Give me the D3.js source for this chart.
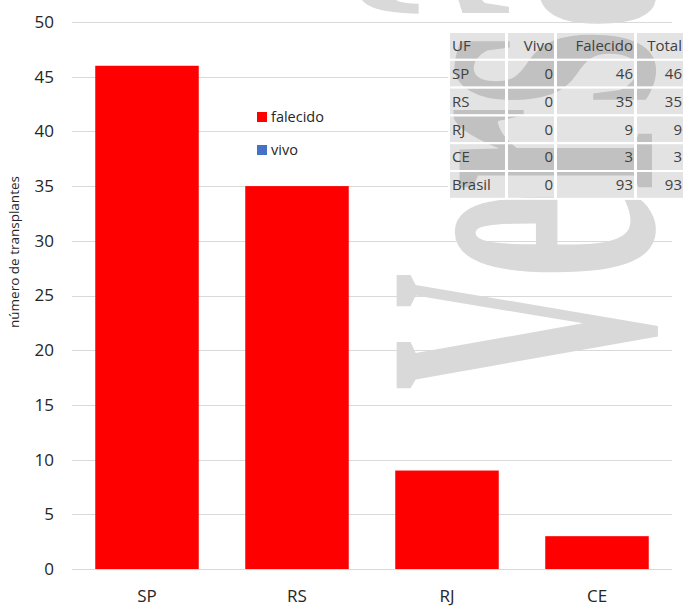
<!DOCTYPE html>
<html>
<head>
<meta charset="utf-8">
<script src="https://cdn.jsdelivr.net/npm/d3@7"></script>
<style>
  body { margin: 0; background: #fff; }
  svg { display: block; }
</style>
</head>
<body>
<script>
const w = 685;
const h = 607;

// data
const categories = ["SP", "RS", "RJ", "CE"];
const vivo = [0, 0, 0, 0];
const falecido = [46, 35, 9, 3];
const yTicks = [0, 5, 10, 15, 20, 25, 30, 35, 40, 45, 50];
const tableHead = ["UF", "Vivo", "Falecido", "Total"];
const tableUF = ["SP", "RS", "RJ", "CE", "Brasil"];
const tableVivo = [0, 0, 0, 0, 0];
const tableFalecido = [46, 35, 9, 3, 93];
const tableTotal = [46, 35, 9, 3, 93];

const colors = { falecido: "#ff0000", vivo: "#4472c4" };
const font = "'Open Sans', 'Noto Sans', sans-serif";

const margin = { top: 22, right: 13, bottom: 38, left: 72 };
const svg = d3.select("body").append("svg").attr("width", w).attr("height", h);

const x = d3.scaleBand()
  .domain(categories)
  .range([margin.left, w - margin.right])
  .paddingInner(0.31)
  .paddingOuter(0.155);

const y = d3.scaleLinear()
  .domain([0, 50])
  .range([h - margin.bottom, margin.top]);

// gridlines
svg.append("g")
  .selectAll("line")
  .data(yTicks)
  .enter()
  .append("line")
  .attr("x1", margin.left)
  .attr("x2", w - margin.right)
  .attr("y1", d => Math.round(y(d)) + 0.5)
  .attr("y2", d => Math.round(y(d)) + 0.5)
  .style("stroke", "#d9d9d9")
  .style("stroke-width", 1);

// y axis labels
const yAxis = svg.append("g")
  .attr("transform", `translate(${margin.left - 18},0)`)
  .call(d3.axisLeft(y).tickValues(yTicks).tickSize(0).tickPadding(0));
yAxis.select(".domain").remove();
yAxis.selectAll("text")
  .style("font-family", font)
  .style("font-size", "17px")
  .style("fill", "#262626");

// x axis labels
const xAxis = svg.append("g")
  .attr("transform", `translate(0,${y(0)})`)
  .call(d3.axisBottom(x).tickSize(0).tickPadding(21));
xAxis.select(".domain").remove();
xAxis.selectAll("text")
  .style("font-family", font)
  .style("font-size", "17px")
  .style("fill", "#262626");

// y axis title
svg.append("text")
  .attr("transform", "translate(19,252) rotate(-90)")
  .attr("text-anchor", "middle")
  .style("font-family", font)
  .style("font-size", "13.5px")
  .style("fill", "#262626")
  .text("número de transplantes");

// stacked bars
const rows = categories.map((c, i) => ({ uf: c, vivo: vivo[i], falecido: falecido[i] }));
const stacked = d3.stack().keys(["falecido", "vivo"])(rows);

svg.append("g")
  .selectAll("g")
  .data(stacked)
  .enter()
  .append("g")
  .style("fill", d => colors[d.key])
  .selectAll("rect")
  .data(d => d)
  .enter()
  .append("rect")
  .attr("x", d => x(d.data.uf))
  .attr("y", d => y(d[1]))
  .attr("width", x.bandwidth())
  .attr("height", d => y(d[0]) - y(d[1]));

// legend
const legendKeys = ["falecido", "vivo"];
const legend = svg.append("g")
  .selectAll("g")
  .data(legendKeys)
  .enter()
  .append("g")
  .attr("transform", (d, i) => `translate(257,${112 + i * 33})`);
legend.append("rect")
  .attr("width", 10)
  .attr("height", 10)
  .style("fill", d => colors[d]);
legend.append("text")
  .attr("x", 14)
  .attr("y", 5)
  .attr("dy", "0.35em")
  .style("font-family", font)
  .style("font-size", "14.5px")
  .style("fill", "#262626")
  .text(d => d);

// table geometry
const colX = [450, 508, 557, 637];
const colW = [57, 48, 79, 48];
const rowH = 27.8;
const tableTop = 33;
const tableRows = [tableHead].concat(tableUF.map((u, i) => [u, tableVivo[i], tableFalecido[i], tableTotal[i]]));

// table background hides the gridlines
svg.append("rect")
  .attr("x", colX[0] - 1)
  .attr("y", tableTop - 1)
  .attr("width", w - colX[0] + 1)
  .attr("height", rowH * tableRows.length)
  .style("fill", "#fff");

// watermark
const wmStyle = sel => sel
  .style("font-family", "'Liberation Serif', serif")
  .style("font-weight", "bold")
  .style("font-size", "195px")
  .style("fill", "#d9d9d9");
svg.append("text")
  .attr("transform", "translate(652,390) rotate(-90) scale(0.83,2.0)")
  .call(wmStyle)
  .text("V");
svg.append("text")
  .attr("transform", "translate(652,279) rotate(-90) scale(1,2.15)")
  .call(wmStyle)
  .text("ersão");

// table cells
const tr = svg.append("g")
  .selectAll("g")
  .data(tableRows)
  .enter()
  .append("g")
  .attr("transform", (d, i) => `translate(0,${tableTop + i * rowH})`);

tr.selectAll("rect")
  .data(d => d)
  .enter()
  .append("rect")
  .attr("x", (d, j) => colX[j] - 1)
  .attr("y", -1)
  .attr("width", (d, j) => colW[j])
  .attr("height", rowH)
  .style("fill", "#000")
  .style("fill-opacity", 0.11)
  .style("stroke", "#fff")
  .style("stroke-width", 2);

tr.selectAll("text")
  .data(d => d)
  .enter()
  .append("text")
  .attr("x", (d, j) => j === 0 ? colX[j] + 2 : colX[j] + colW[j] - 3)
  .attr("y", (rowH - 2) / 2)
  .attr("dy", "0.35em")
  .attr("text-anchor", (d, j) => j === 0 ? "start" : "end")
  .style("font-family", font)
  .style("font-size", "15px")
  .style("fill", "#404040")
  .text(d => d);
</script>
</body>
</html>
